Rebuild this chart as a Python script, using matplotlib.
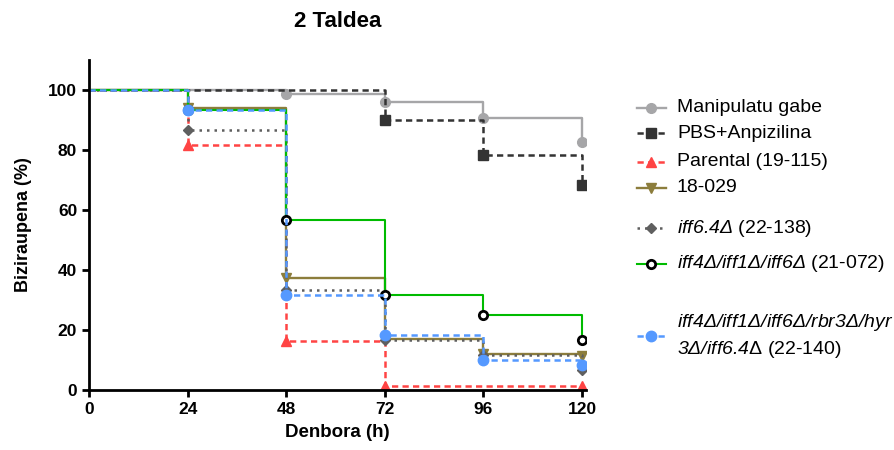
import matplotlib
matplotlib.use('Agg')
import matplotlib.pyplot as plt
from matplotlib.lines import Line2D

plt.rcParams['font.family'] = ['Liberation Sans', 'DejaVu Sans']
plt.rcParams['mathtext.fontset'] = 'custom'
plt.rcParams['mathtext.rm'] = 'Liberation Sans:italic'
plt.rcParams['mathtext.it'] = 'Liberation Sans:italic'
plt.rcParams['mathtext.sf'] = 'Liberation Sans'

############################## data ##
times = [0, 24, 48, 72, 96, 120]

manipulatu = [100, 100, 98.5, 96.0, 90.8, 82.8]
pbs = [100, 100, 100, 90.0, 78.3, 68.3]
parental = [100, 81.5, 16.5, 1.5, 1.5, 1.5]
s18_029 = [100, 93.8, 37.2, 17.0, 12.0, 11.5]
iff64 = [100, 86.7, 33.3, 16.7, 11.7, 6.7]
iff4_1_6 = [100, 93.3, 56.7, 31.7, 25.0, 16.7]
iff_multi = [100, 93.3, 31.7, 18.3, 10.0, 8.3]

labels = [
    'Manipulatu gabe',
    'PBS+Anpizilina',
    'Parental (19-115)',
    '18-029',
    r'$iff6.4\Delta$ (22-138)',
    r'$iff4\Delta/iff1\Delta/iff6\Delta$ (21-072)',
    r'$iff4\Delta/iff1\Delta/iff6\Delta/rbr3\Delta/hyr$' + '\n'
    + r'$3\Delta/iff6.4\mathsf{\Delta}$ (22-140)',
]

series = [manipulatu, pbs, parental, s18_029, iff64, iff4_1_6, iff_multi]

# style per series: color, linestyle, marker, markerfacecolor, markeredgecolor, size, linewidth
styles = [
    ('#a6a6a8', '-', 'o', '#a6a6a8', '#a6a6a8', 7, 1.7),
    ('#333333', (0, (2.5, 1.7)), 's', '#333333', '#333333', 6.5, 1.8),
    ('#ff4444', (0, (2.5, 1.7)), '^', '#ff4444', '#ff4444', 7, 1.8),
    ('#8c7d3c', '-', 'v', '#8c7d3c', '#8c7d3c', 7, 1.7),
    ('#5f5f5f', (0, (1, 2)), 'D', '#5f5f5f', '#5f5f5f', 5.5, 1.8),
    ('#00bb00', '-', 'o', 'white', 'black', 6, 1.5),
    ('#5599ff', (0, (2.5, 1.7)), 'o', '#5599ff', '#5599ff', 7.5, 1.8),
]

fig = plt.figure(figsize=(8.94, 4.5), dpi=100)
ax = fig.add_axes([0.0996, 0.133, 0.556, 0.734])

for vals, st in zip(series, styles):
    color, ls, mk, mfc, mec, ms, lw = st
    ax.step(times, vals, where='post', color=color, linestyle=ls, linewidth=lw)
    # markers where survival changes, plus the last time point
    idx = [i for i in range(1, len(times)) if vals[i] != vals[i - 1] or i == len(times) - 1]
    mew = 2 if mfc == 'white' else 1
    ax.plot([times[i] for i in idx], [vals[i] for i in idx], linestyle='none', marker=mk,
            markersize=ms, markerfacecolor=mfc, markeredgecolor=mec, markeredgewidth=mew)

ax.set_xlim(0, 121)
ax.set_ylim(0, 110)
ax.set_xticks([0, 24, 48, 72, 96, 120])
ax.set_yticks([0, 20, 40, 60, 80, 100])
ax.spines['right'].set_visible(False)
ax.spines['top'].set_visible(False)
ax.spines['left'].set_linewidth(2)
ax.spines['bottom'].set_linewidth(2)
ax.tick_params(width=2, length=5, labelsize=12.5)
for t in ax.get_xticklabels() + ax.get_yticklabels():
    t.set_fontweight('bold')

ax.set_xlabel('Denbora (h)', fontsize=13.5, fontweight='bold', labelpad=5)
ax.set_ylabel('Biziraupena (%)', fontsize=13, fontweight='bold', labelpad=12)
ax.set_title('2 Taldea', fontsize=16, fontweight='bold', pad=24)

# legend drawn by hand so the uneven row spacing of the original is kept
W, H = 894.0, 450.0
rows_y = [108, 133, 162, 188, 228, 264, 336]
for lab, st, yy in zip(labels, styles, rows_y):
    color, ls, mk, mfc, mec, ms, lw = st
    mew = 2 if mfc == 'white' else 1
    yf = 1 - yy / H
    fig.add_artist(Line2D([637 / W, 651 / W, 666 / W], [yf, yf, yf], transform=fig.transFigure,
                          color=color, linestyle=ls, linewidth=lw, marker=mk, markevery=[1],
                          markersize=ms, markerfacecolor=mfc, markeredgecolor=mec,
                          markeredgewidth=mew))
    fig.text(677 / W, yf, lab, fontsize=14, va='center', ha='left', linespacing=1.35)

plt.savefig('out.png', dpi=100)
plt.close()
